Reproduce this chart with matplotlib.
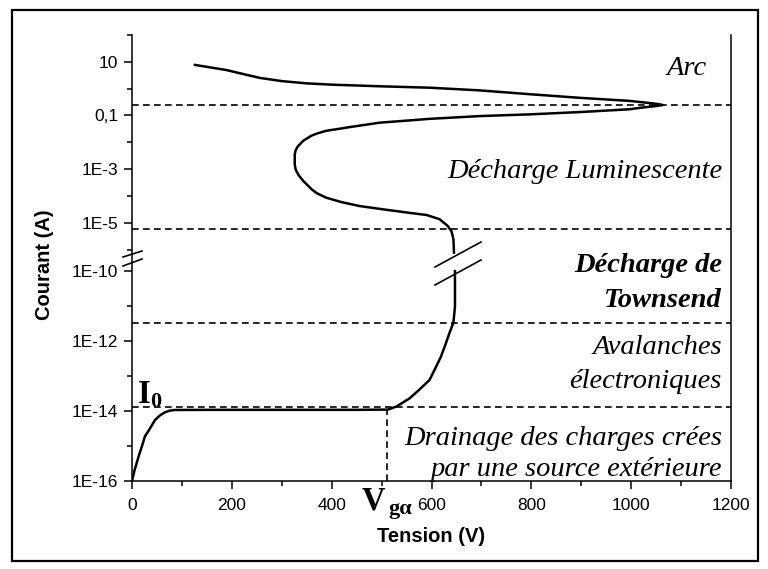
import numpy as np
import matplotlib.pyplot as plt
from matplotlib.patches import Rectangle
from matplotlib.lines import Line2D

plt.rcParams['font.family'] = ['Liberation Sans', 'DejaVu Sans']

# lower branch: drainage, avalanches, Townsend (below the axis break)
low_v = [0, 5, 13, 20, 26, 35, 46, 56, 66, 76, 86, 150, 300, 450, 513,
         530, 556, 575, 596, 608, 619, 628, 636, 641, 644, 647, 647]
low_i = [1e-16, 2e-16, 4.9e-16, 1e-15, 1.9e-15, 3e-15, 5.5e-15, 7.5e-15, 9.2e-15, 1.03e-14, 1.07e-14,
         1.08e-14, 1.08e-14, 1.08e-14, 1.1e-14,
         1.35e-14, 2.3e-14, 4e-14, 7.7e-14, 1.7e-13, 3.6e-13, 8e-13, 1.7e-12, 2.6e-12, 3.5e-12, 9.5e-12, 1e-10]

# upper branch: glow discharge and arc (above the axis break)
up_v = [645, 644, 640, 632, 616, 590, 556, 500, 456, 420, 389, 370, 360, 343, 334, 328, 326,
        326, 328, 332, 343, 360, 373, 389, 415, 440, 496, 596, 696, 796, 900, 996, 1020, 1050, 1063,
        1055, 1030, 996, 900, 796, 696, 596, 496, 400, 349, 300, 256, 225, 189, 160, 126]
up_i = [8e-7, 2.5e-6, 5e-6, 8e-6, 1.4e-5, 2e-5, 2.4e-5, 3.3e-5, 4.3e-5, 6e-5, 8.8e-5, 1.3e-4, 1.8e-4, 3.7e-4, 6e-4, 9.5e-4, 1.5e-3,
        3.6e-3, 5.2e-3, 7e-3, 0.0115, 0.018, 0.022, 0.027, 0.032, 0.038, 0.054, 0.075, 0.095, 0.11, 0.135, 0.17, 0.195, 0.225, 0.245,
        0.265, 0.3, 0.35, 0.45, 0.62, 0.86, 1.08, 1.22, 1.4, 1.57, 1.9, 2.5, 3.4, 4.9, 6.0, 7.6]

# regime boundaries
levels = [0.245, 5.9e-6, 3.3e-12, 1.28e-14]
v_ga = 510

y_major = [1e-16, 1e-14, 1e-12, 1e-10, 1e-5, 1e-3, 1e-1, 1e1]
y_labels = ['1E-16', '1E-14', '1E-12', '1E-10', '1E-5', '1E-3', '0,1', '10']
y_minor = [1e-15, 1e-13, 1e-11, 1e-6, 1e-4, 1e-2, 1, 1e2]
x_major = [0, 200, 400, 600, 800, 1000, 1200]

# broken log axis: decades 1E-16..1E-9.77 and 1E-6.15..1E2 with different spacing
U_KNOTS = [-30, -16, -9.77, -6.15, 20]
P_KNOTS = [-490, 0, 218, 227, 227 + 26.15 * 26.9]


def fwd(v):
    u = np.log10(np.clip(np.asarray(v, dtype=float), 1e-300, None))
    return np.interp(u, U_KNOTS, P_KNOTS)


def inv(p):
    return 10 ** np.interp(p, P_KNOTS, U_KNOTS)


W, H = 768, 569


def px(x, y):
    return x / W, 1 - y / H


fig = plt.figure(figsize=(W / 100, H / 100), dpi=100)
fig.patches.append(Rectangle(px(12, 561), (758 - 12) / W, (561 - 10) / H,
                             transform=fig.transFigure, fill=False, lw=1.6, ec='black'))

ax = fig.add_axes([132 / W, 1 - 481 / H, (731 - 132) / W, (481 - 34.8) / H])
ax.set_yscale('function', functions=(fwd, inv))
ax.set_xlim(0, 1200)
ax.set_ylim(1e-16, 1e2)

ax.plot(low_v, low_i, color='black', lw=1.8, solid_joinstyle='round')
ax.plot(up_v, up_i, color='black', lw=1.8, solid_joinstyle='round')

for lv in levels:
    ax.axhline(lv, color='black', lw=1.2, ls=(0, (4, 2.6)))
ax.vlines(v_ga, 1e-16, 1.1e-14, color='black', lw=1.2, ls=(0, (4, 2.6)))

ax.set_yticks(y_major)
ax.set_yticklabels(y_labels)
ax.set_yticks(y_minor, minor=True)
ax.set_xticks(x_major)
ax.set_xticks(np.arange(100, 1200, 200), minor=True)
ax.tick_params(which='major', length=6, width=1.1, labelsize=12.5, direction='out', pad=4)
ax.tick_params(which='minor', length=3.3, width=1.1, direction='out')
ax.tick_params(axis='x', which='major', pad=6)

ax.spines['top'].set_visible(False)
for s in ['left', 'right', 'bottom']:
    ax.spines[s].set_linewidth(1.1)

ax.set_xlabel('Tension (V)', fontsize=14.5, fontweight='bold')
ax.xaxis.set_label_coords((431 - 132) / 599, (481 - 537) / 446.2)
ax.xaxis.label.set_va('center')
ax.set_ylabel('Courant (A)', fontsize=14.5, fontweight='bold')
ax.yaxis.set_label_coords((45 - 132) / 599, (481 - 265) / 446.2)
ax.yaxis.label.set_va('center')

# break marks on the axis and on the curve
for (x0, y0, x1, y1) in [(123, 257, 142, 251), (123, 266, 142, 259),
                         (435, 267, 481, 242), (435, 285, 481, 260)]:
    fig.add_artist(Line2D([x0 / W, x1 / W], [1 - y0 / H, 1 - y1 / H],
                          transform=fig.transFigure, color='black', lw=1.2))

serif = dict(fontfamily='Liberation Serif', style='italic', fontsize=20.5,
             ha='right', va='baseline')
fig.text(*px(707, 75), 'Arc', **serif)
fig.text(*px(722, 178), 'Décharge Luminescente', **serif)
fig.text(*px(722, 272), 'Décharge de', fontweight='bold', **serif)
fig.text(*px(722, 307), 'Townsend', fontweight='bold', **serif)
fig.text(*px(722, 354), 'Avalanches', **serif)
fig.text(*px(722, 388), 'électroniques', **serif)
fig.text(*px(722, 445), 'Drainage des charges crées', **serif)
fig.text(*px(722, 476), 'par une source extérieure', **serif)

bold = dict(fontfamily='Liberation Serif', fontweight='bold', va='baseline', ha='left')
fig.text(*px(138, 403), 'I', fontsize=23.5, **bold)
fig.text(*px(150, 407), '0', fontsize=16, **bold)
fig.text(*px(362, 509), 'V', fontsize=23.5, **bold)
fig.text(*px(388, 514), 'gα', fontsize=16, **bold)

fig.savefig('out.png', dpi=100)
